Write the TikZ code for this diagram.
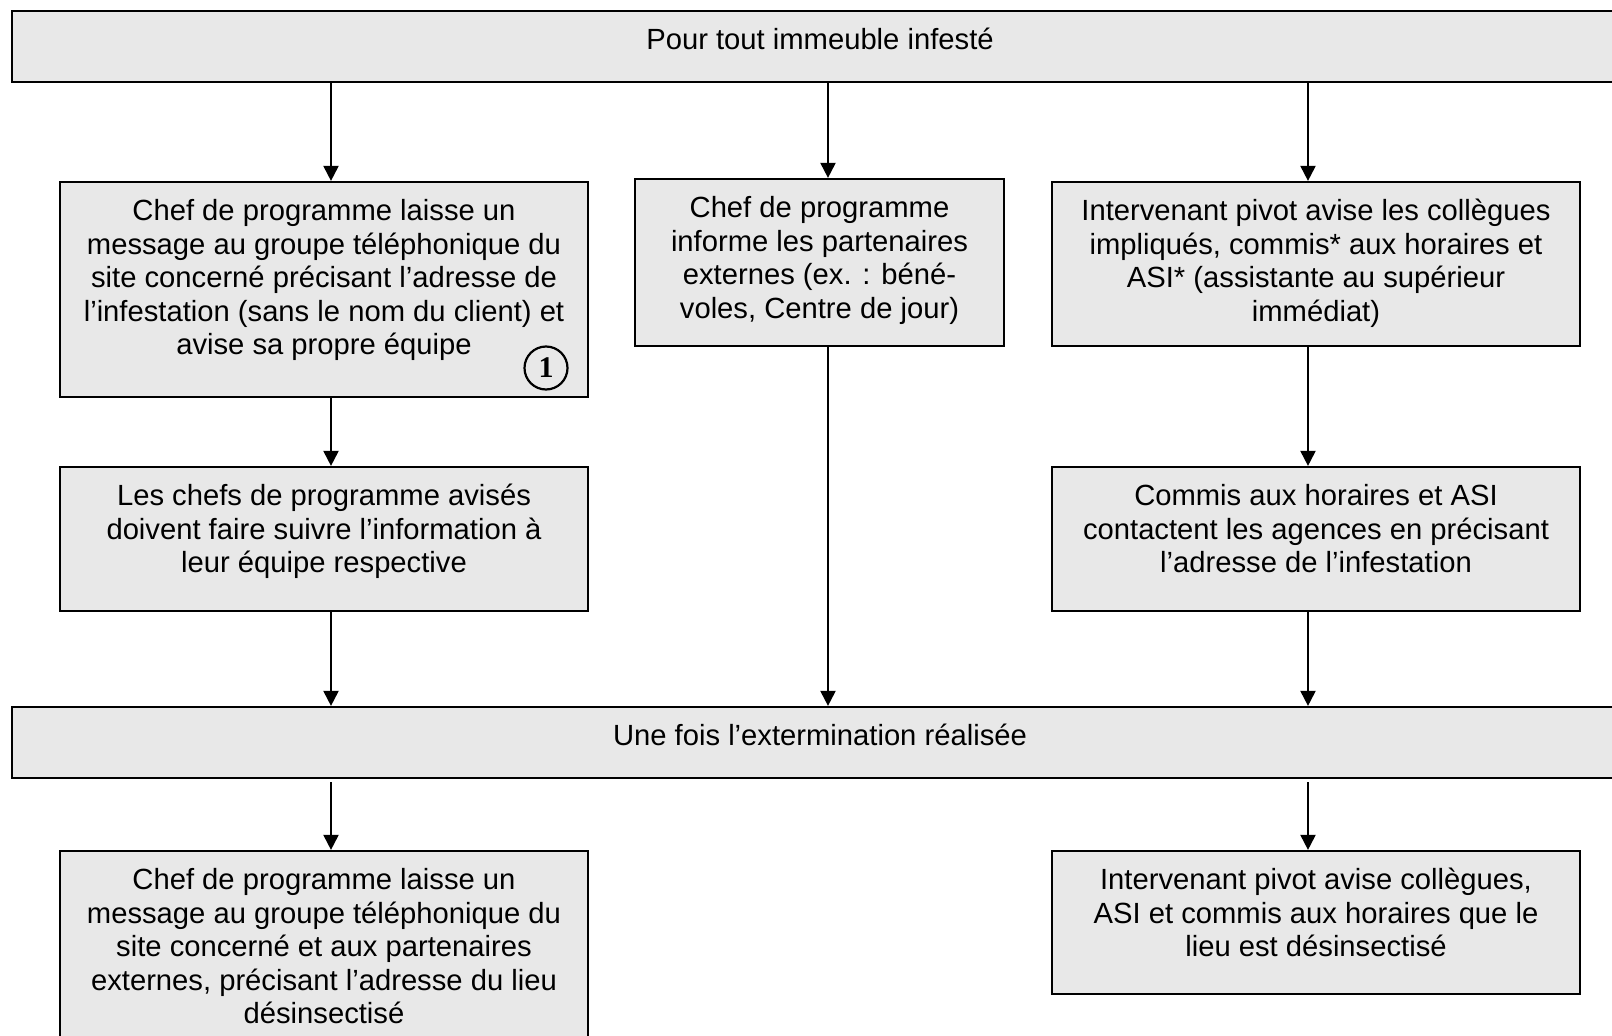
\documentclass[tikz,border=0pt]{standalone}
\usepackage{fontspec}
\setmainfont{Liberation Sans}
\newfontfamily\numfont{Liberation Serif}
\usetikzlibrary{arrows.meta}
\definecolor{boxgray}{RGB}{232,232,232}
\newcommand{\bt}[3]{\parbox[c][#2][t]{#1}{\centering\fontsize{29.2pt}{33.6pt}\selectfont\rule{0pt}{38.5pt}#3}}
\tikzset{
  boxnode/.style={draw=black, fill=boxgray, line width=2.2pt, inner sep=0pt, rectangle},
  arr/.style={line width=2pt, -{Triangle[width=15pt,length=15pt]}},
  numcirc/.style={circle, draw=black, line width=2.2pt, minimum size=43pt, inner sep=0pt,
    font=\numfont\bfseries\fontsize{30pt}{30pt}\selectfont}
}
\begin{document}
\begin{tikzpicture}[x=1pt,y=-1pt]
\useasboundingbox (0,0) rectangle (1612,1036);
\clip (0,0) rectangle (1612,1036);
\fill[white] (0,0) rectangle (1612,1036);

\node[boxnode] (top) at (820,46.5) {\bt{1616pt}{71pt}{Pour tout immeuble infesté}};

\node[boxnode] (b1) at (324,289.5) {\bt{528pt}{215pt}{Chef de programme laisse un\\message au groupe téléphonique du\\site concerné précisant l’adresse de\\l’infestation (sans le nom du client) et\\avise sa propre équipe}};
\node[boxnode] (b2) at (819.5,262.5) {\bt{369pt}{167pt}{Chef de programme\\informe les partenaires\\externes (ex. : béné-\\voles, Centre de jour)}};
\node[boxnode] (b3) at (1316,264) {\bt{528pt}{164pt}{Intervenant pivot avise les collègues\\impliqués, commis* aux horaires et\\ASI* (assistante au supérieur\\immédiat)}};

\node[numcirc] (one) at (546,368) {1};

\node[boxnode] (b4) at (324,539) {\bt{528pt}{144pt}{Les chefs de programme avisés\\doivent faire suivre l’information à\\leur équipe respective}};
\node[boxnode] (b5) at (1316,539) {\bt{528pt}{144pt}{Commis aux horaires et ASI\\contactent les agences en précisant\\l’adresse de l’infestation}};

\node[boxnode] (low) at (820,742.5) {\bt{1616pt}{71pt}{Une fois l’extermination réalisée}};

\node[boxnode] (b6) at (324,960.5) {\bt{528pt}{219pt}{Chef de programme laisse un\\message au groupe téléphonique du\\site concerné et aux partenaires\\externes, précisant l’adresse du lieu\\désinsectisé}};
\node[boxnode] (b7) at (1316,922.5) {\bt{528pt}{143pt}{Intervenant pivot avise collègues,\\ASI et commis aux horaires que le\\lieu est désinsectisé}};

\coordinate (xL) at (331,0);
\coordinate (xM) at (828,0);
\coordinate (xR) at (1308,0);

\draw[arr] (top.south -| xL) -- (b1.north -| xL);
\draw[arr] (top.south -| xM) -- (b2.north -| xM);
\draw[arr] (top.south -| xR) -- (b3.north -| xR);

\draw[arr] (b1.south -| xL) -- (b4.north -| xL);
\draw[arr] (b3.south -| xR) -- (b5.north -| xR);

\draw[arr] (b4.south -| xL) -- (low.north -| xL);
\draw[arr] (b2.south -| xM) -- (low.north -| xM);
\draw[arr] (b5.south -| xR) -- (low.north -| xR);

\draw[arr, shorten <=3pt] (low.south -| xL) -- (b6.north -| xL);
\draw[arr, shorten <=3pt] (low.south -| xR) -- (b7.north -| xR);
\end{tikzpicture}
\end{document}
